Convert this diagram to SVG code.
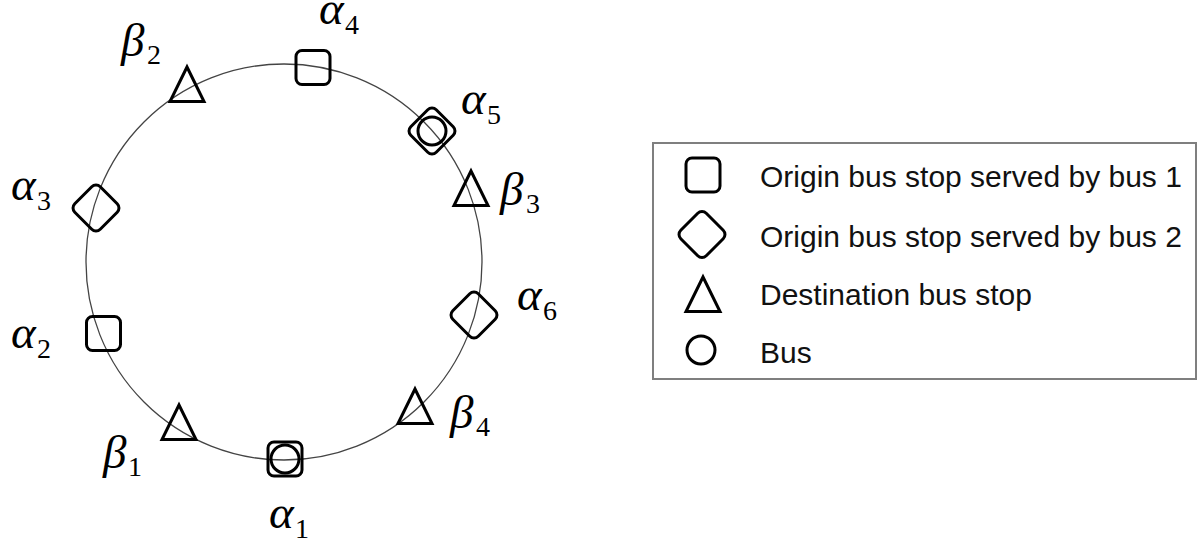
<svg xmlns="http://www.w3.org/2000/svg" width="1200" height="546" viewBox="0 0 1200 546">
<style>
  .shape { fill: none; stroke: #000; stroke-width: 3; stroke-linejoin: miter; }
  .ring { fill: none; stroke: #444; stroke-width: 1.3; }
  .lbl { font-family: "Liberation Serif", "DejaVu Serif", serif; font-style: italic; font-size: 47px; fill: #000; }
  .sub { font-family: "Liberation Serif", "DejaVu Serif", serif; font-style: normal; font-size: 28px; }
  .leg { font-family: "Liberation Sans", Arial, sans-serif; font-size: 30px; fill: #111; }
  .box { fill: #fff; stroke: #7f7f7f; stroke-width: 2; }
</style>
<defs>
  <rect id="sq" class="shape" x="-17" y="-17" width="34" height="34" rx="6" ry="6"/>
  <rect id="dia" class="shape" x="-18" y="-18" width="36" height="36" rx="6" ry="6" transform="rotate(45)"/>
  <path id="tri" class="shape" d="M0,4 L-17,38.5 L17,38.5 Z"/>
  <circle id="bus" class="shape" cx="0" cy="0" r="14"/>
</defs>

<rect width="1200" height="546" fill="#fff"/>

<g id="connectors">
  <circle class="ring" cx="284" cy="262" r="198"/>
</g>

<g id="alpha1">
  <use href="#sq" x="285" y="459"/>
  <use href="#bus" x="285" y="459"/>
  <text class="lbl" x="269" y="528">α<tspan class="sub" x="295" y="538">1</tspan></text>
</g>
<g id="alpha2">
  <use href="#sq" x="103.5" y="333.5"/>
  <text class="lbl" x="11" y="348">α<tspan class="sub" x="37" y="358">2</tspan></text>
</g>
<g id="alpha3">
  <use href="#dia" x="96" y="208"/>
  <text class="lbl" x="11" y="200">α<tspan class="sub" x="37" y="210">3</tspan></text>
</g>
<g id="alpha4">
  <use href="#sq" x="313" y="67.5"/>
  <text class="lbl" x="319" y="24">α<tspan class="sub" x="345" y="34">4</tspan></text>
</g>
<g id="alpha5">
  <use href="#dia" x="432" y="131"/>
  <use href="#bus" x="432" y="131"/>
  <text class="lbl" x="461" y="114">α<tspan class="sub" x="487" y="124">5</tspan></text>
</g>
<g id="alpha6">
  <use href="#dia" x="474" y="315"/>
  <text class="lbl" x="517" y="310">α<tspan class="sub" x="543" y="320">6</tspan></text>
</g>
<g id="beta1">
  <use href="#tri" x="179" y="401"/>
  <text class="lbl" x="103" y="468">β<tspan class="sub" x="128" y="476">1</tspan></text>
</g>
<g id="beta2">
  <use href="#tri" x="187" y="63"/>
  <text class="lbl" x="121" y="56">β<tspan class="sub" x="147" y="64">2</tspan></text>
</g>
<g id="beta3">
  <use href="#tri" x="471" y="167"/>
  <text class="lbl" x="500" y="205">β<tspan class="sub" x="526" y="213">3</tspan></text>
</g>
<g id="beta4">
  <use href="#tri" x="415" y="385"/>
  <text class="lbl" x="450" y="428">β<tspan class="sub" x="476" y="436">4</tspan></text>
</g>

<g id="legend">
  <rect class="box" x="653" y="143" width="543" height="236"/>
  <use href="#sq" x="703" y="175"/>
  <text class="leg" x="760" y="187">Origin bus stop served by bus 1</text>
  <use href="#dia" x="702" y="234.5"/>
  <text class="leg" x="760" y="246.5">Origin bus stop served by bus 2</text>
  <use href="#tri" x="703" y="273"/>
  <text class="leg" x="760" y="305">Destination bus stop</text>
  <use href="#bus" x="701" y="350"/>
  <text class="leg" x="760" y="363">Bus</text>
</g>
</svg>
